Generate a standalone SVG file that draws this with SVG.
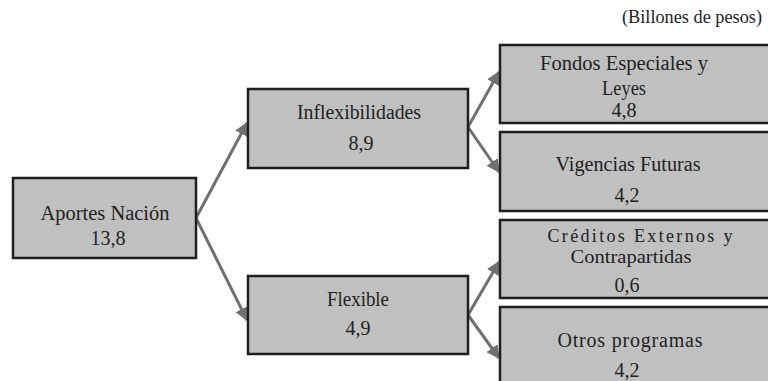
<svg xmlns="http://www.w3.org/2000/svg" width="768" height="381" viewBox="0 0 768 381">
<style>
.box{fill:#c0c0c0;stroke:#1e1e1e;stroke-width:2.5}
.c{stroke:#707070;stroke-width:3;fill:none;marker-end:url(#ah)}
</style>
<defs>
<marker id="ah" viewBox="0 0 10 10" refX="9" refY="5" markerWidth="4.5" markerHeight="4.5" orient="auto" markerUnits="strokeWidth">
<path d="M0,0 L10,5 L0,10 z" fill="#707070"/>
</marker>
</defs>
<rect width="768" height="381" fill="#fff"/>
<g font-family="Liberation Serif, DejaVu Serif, serif" font-size="20" fill="#222" text-anchor="middle">
<text x="762" y="23" text-anchor="end" font-size="19" textLength="140" lengthAdjust="spacingAndGlyphs">(Billones de pesos)</text>
<g id="connectors">
<path class="c" d="M196,218 L247,123"/>
<path class="c" d="M196,218 L247,320"/>
<path class="c" d="M468,127 L499,72"/>
<path class="c" d="M468,127 L499,172"/>
<path class="c" d="M468,315 L499,262"/>
<path class="c" d="M468,315 L499,358"/>
</g>
<g id="n-aportes">
<rect class="box" x="13" y="178" width="183" height="80"/>
<text x="105" y="220" textLength="129" lengthAdjust="spacingAndGlyphs">Aportes Nación</text>
<text x="108" y="245">13,8</text>
</g>
<g id="n-inflex">
<rect class="box" x="248" y="89" width="220" height="79"/>
<text x="359" y="119" textLength="124" lengthAdjust="spacingAndGlyphs">Inflexibilidades</text>
<text x="361" y="150">8,9</text>
</g>
<g id="n-flex">
<rect class="box" x="248" y="276" width="220" height="78"/>
<text x="358" y="306" textLength="62" lengthAdjust="spacingAndGlyphs">Flexible</text>
<text x="358" y="335">4,9</text>
</g>
<g id="n-fondos">
<rect class="box" x="500" y="45" width="280" height="78"/>
<text x="624" y="70" textLength="168" lengthAdjust="spacingAndGlyphs">Fondos Especiales y</text>
<text x="624" y="95" textLength="44" lengthAdjust="spacingAndGlyphs">Leyes</text>
<text x="624" y="117">4,8</text>
</g>
<g id="n-vigencias">
<rect class="box" x="500" y="132" width="280" height="79"/>
<text x="628" y="171" textLength="145" lengthAdjust="spacingAndGlyphs">Vigencias Futuras</text>
<text x="627" y="202">4,2</text>
</g>
<g id="n-creditos">
<rect class="box" x="500" y="220" width="280" height="78"/>
<text x="640" y="242" font-size="18" textLength="185" lengthAdjust="spacing">Créditos Externos y</text>
<text x="631" y="263" font-size="18" textLength="121" lengthAdjust="spacingAndGlyphs">Contrapartidas</text>
<text x="627" y="292">0,6</text>
</g>
<g id="n-otros">
<rect class="box" x="500" y="307" width="280" height="90"/>
<text x="630" y="347" textLength="145" lengthAdjust="spacing">Otros programas</text>
<text x="627" y="377">4,2</text>
</g>
</g>
</svg>
